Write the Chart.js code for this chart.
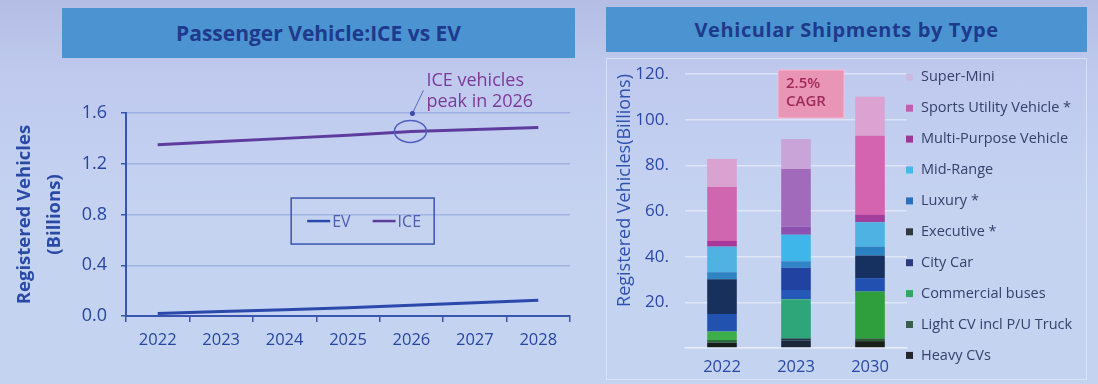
<!DOCTYPE html>
<html>
<head>
<meta charset="utf-8">
<script src="https://cdn.jsdelivr.net/npm/chart.js@4.4.1/dist/chart.umd.min.js"></script>
<style>
html,body{margin:0;padding:0;}
body{width:1098px;height:384px;overflow:hidden;position:relative;
  background:linear-gradient(to bottom,#b4bee5 0%,#bfcaee 20%,#c5d3f1 55%,#c3d3f0 100%);
  font-family:"Open Sans",sans-serif;}
.title{position:absolute;background:#4b93d1;color:#1e3a8c;font-weight:700;
  display:flex;align-items:center;justify-content:center;white-space:nowrap;}
#t1{left:62px;top:8px;width:513px;height:50px;font-size:21px;}
#t2{left:606px;top:7px;width:481px;height:45px;font-size:20px;letter-spacing:0.6px;}
#frame{position:absolute;left:606px;top:58px;width:481px;height:322px;border:1px solid rgba(255,255,255,0.4);box-sizing:border-box;}
#c1{position:absolute;left:0;top:0;}
#c2{position:absolute;left:600px;top:0;}
</style>
</head>
<body>
<div id="frame"></div>
<div class="title" id="t1">Passenger Vehicle:ICE vs EV</div>
<div class="title" id="t2">Vehicular Shipments by Type</div>
<canvas id="c1" width="600" height="384"></canvas>
<canvas id="c2" width="498" height="384"></canvas>
<script>
// ---------- Left chart data ----------
const years = ['2022','2023','2024','2025','2026','2027','2028'];
const evValues  = [0.02, 0.035, 0.05, 0.066, 0.085, 0.105, 0.125];
const iceValues = [1.35, 1.375, 1.40, 1.425, 1.455, 1.47, 1.485];
const yTicksLeft = [0, 0.4, 0.8, 1.2, 1.6];
const peakYear = '2026';
const peakNote = ['ICE vehicles', 'peak in 2026'];

// ---------- Right chart data ----------
const shipYears = ['2022', '2023', '2030'];
const typeNames = ['Heavy CVs', 'Light CV incl P/U Truck', 'Commercial buses', 'City Car', 'Executive *',
                   'Luxury *', 'Mid-Range', 'Multi-Purpose Vehicle', 'Sports Utility Vehicle *', 'Super-Mini'];
const heavyCV         = [2.3, 3.2, 3.0];
const lightCV         = [1.2, 1.0, 1.2];
const commercialBuses = [3.7, 17.2, 20.5];
const cityCar         = [7.7, 4.0, 5.9];
const executive       = [15.2, 9.7, 9.9];
const luxury          = [3.1, 2.9, 3.9];
const midRange        = [11.2, 11.6, 10.7];
const multiPurpose    = [2.5, 3.6, 3.2];
const sportsUtility   = [23.6, 25.2, 34.7];
const superMini       = [12.3, 13.1, 17.0];
const yTicksRight = [0, 20, 40, 60, 80, 100, 120];
const cagrLabel = ['2.5%', 'CAGR'];
const cagrYearIndex = 1;

const seriesValues = [heavyCV, lightCV, commercialBuses, cityCar, executive, luxury, midRange, multiPurpose, sportsUtility, superMini];

// ---------- Styles ----------
Chart.defaults.font.family = '"Open Sans", sans-serif';
const barColors = [
  ['#161c19', '#1b2638', '#182018'],
  ['#2b6a3c', '#1e3a44', '#2a5a34'],
  ['#3eae4a', '#2fa67a', '#2f9f3e'],
  ['#2152b0', '#2658b8', '#2150b0'],
  ['#17305c', '#2242a2', '#163060'],
  ['#2f84c4', '#3184c8', '#2a82c2'],
  ['#50b2e2', '#3eb6ea', '#4eb2e2'],
  ['#a8379a', '#8c50b0', '#a23e9c'],
  ['#d066b0', '#a26aba', '#d464b0'],
  ['#d9a2d0', '#c8a4d8', '#dca2d2']
];
const legendColors = ['#22262a', '#386048', '#30a860', '#2a3a80', '#303840', '#2870c0', '#48b8ec', '#9a3a98', '#c060b0', '#cdbadf'];

// ---------- Left chart plugins ----------
const boxLegend = {
  id: 'boxLegend',
  afterDraw(chart) {
    const {ctx, chartArea: a} = chart;
    const x0 = a.left + a.width * 0.372, y0 = a.top + a.height * 0.419;
    const w = 143, h = 46;
    ctx.save();
    ctx.strokeStyle = '#3a55ad'; ctx.lineWidth = 1.5;
    ctx.strokeRect(x0, y0, w, h);
    ctx.font = '16px "Open Sans", sans-serif';
    ctx.textBaseline = 'middle';
    let x = x0 + 16; const y = y0 + h / 2;
    chart.data.datasets.forEach(ds => {
      ctx.strokeStyle = ds.borderColor; ctx.lineWidth = 2.5;
      ctx.beginPath(); ctx.moveTo(x, y); ctx.lineTo(x + 23, y); ctx.stroke();
      ctx.fillStyle = '#4a5cb0';
      ctx.fillText(ds.label, x + 25, y + 1);
      x += 25 + ctx.measureText(ds.label).width + 22;
    });
    ctx.restore();
  }
};
const peakNotePlugin = {
  id: 'peakNote',
  afterDatasetsDraw(chart) {
    const {ctx} = chart;
    const i = years.indexOf(peakYear);
    const x = chart.scales.x.getPixelForValue(i);
    const y = chart.scales.y.getPixelForValue(iceValues[i]);
    ctx.save();
    ctx.strokeStyle = '#4d5fc0'; ctx.lineWidth = 1.5;
    ctx.beginPath(); ctx.ellipse(x - 1, y, 16, 11, 0, 0, Math.PI * 2); ctx.stroke();
    ctx.strokeStyle = '#5a6ac0'; ctx.lineWidth = 1;
    ctx.beginPath(); ctx.moveTo(x + 1, y - 18); ctx.lineTo(x + 12, y - 41); ctx.stroke();
    ctx.fillStyle = '#3a4ab0';
    ctx.beginPath(); ctx.arc(x + 1, y - 18, 2.5, 0, Math.PI * 2); ctx.fill();
    ctx.fillStyle = '#7b3a9a';
    ctx.font = '18px "Open Sans", sans-serif';
    ctx.textBaseline = 'middle';
    ctx.fillText(peakNote[0], x + 15, y - 51);
    ctx.fillText(peakNote[1], x + 15, y - 30);
    ctx.restore();
  }
};

new Chart(document.getElementById('c1'), {
  type: 'line',
  data: {
    labels: years,
    datasets: [
      {label: 'EV', data: evValues, borderColor: '#2b49ab', borderWidth: 3, pointRadius: 0, tension: 0},
      {label: 'ICE', data: iceValues, borderColor: '#5e3c9e', borderWidth: 3, pointRadius: 0, tension: 0}
    ]
  },
  options: {
    responsive: false, animation: false,
    layout: {padding: {left: 0, top: 113, right: 30, bottom: 34}},
    plugins: {legend: {display: false}, tooltip: {enabled: false}},
    scales: {
      x: {
        offset: true,
        grid: {offset: true, drawOnChartArea: false, drawTicks: true, tickLength: 6, color: '#3a55ad', lineWidth: 1.5},
        border: {color: '#3a55ad', width: 2},
        ticks: {color: '#2746a0', font: {size: 16.5, lineHeight: 1.2}, padding: 8, maxRotation: 0},
        afterFit(s) { s.height = 34; }
      },
      y: {
        min: 0, max: 1.6,
        afterBuildTicks(s) { s.ticks = yTicksLeft.map(v => ({value: v})); },
        grid: {color: 'rgba(70,100,185,0.28)', lineWidth: 1.5, drawTicks: true, tickLength: 5,
               tickColor: '#3a55ad', tickWidth: 1.5},
        border: {color: '#3a55ad', width: 2},
        ticks: {color: '#2746a0', font: {size: 18}, padding: 14, callback: v => Number(v).toFixed(1)},
        title: {display: true, text: ['Registered Vehicles', '(Billions)'], color: '#2b4aa8',
                font: {size: 18.5, weight: 'bold', lineHeight: 1.6}, padding: {top: 10, bottom: 0}},
        afterFit(s) { s.width = 126; }
      }
    }
  },
  plugins: [boxLegend, peakNotePlugin]
});

// ---------- Right chart plugins ----------
const sideLegend = {
  id: 'sideLegend',
  afterDraw(chart) {
    const {ctx, chartArea: a} = chart;
    const items = chart.data.datasets.map((d, i) => ({label: d.label, color: legendColors[i]})).reverse();
    ctx.save();
    ctx.font = '14.5px "Open Sans", sans-serif';
    ctx.textBaseline = 'middle';
    items.forEach((it, k) => {
      const y = a.top + 3.3 + k * 30.9;
      ctx.fillStyle = it.color;
      ctx.fillRect(a.right - 1, y - 3.5, 7, 7);
      ctx.fillStyle = '#36416c';
      ctx.fillText(it.label, a.right + 14, y);
    });
    ctx.restore();
  }
};
const cagrPlugin = {
  id: 'cagr',
  afterDraw(chart) {
    const {ctx, chartArea: a} = chart;
    const xc = chart.scales.x.getPixelForValue(cagrYearIndex);
    const left = xc - 18, top = a.top - 4, w = 66, h = 48;
    ctx.save();
    ctx.fillStyle = '#e996b6';
    ctx.fillRect(left, top, w, h);
    ctx.strokeStyle = 'rgba(255,190,215,0.9)'; ctx.lineWidth = 1;
    ctx.strokeRect(left, top, w, h);
    ctx.fillStyle = '#a02a5c';
    ctx.font = '600 15px "Open Sans", sans-serif';
    ctx.textBaseline = 'middle';
    ctx.fillText(cagrLabel[0], left + 8, top + 14);
    ctx.fillText(cagrLabel[1], left + 8, top + 32);
    ctx.restore();
  }
};

new Chart(document.getElementById('c2'), {
  type: 'bar',
  data: {
    labels: shipYears,
    datasets: typeNames.map((n, i) => ({
      label: n, data: seriesValues[i], backgroundColor: barColors[i], borderWidth: 0,
      barPercentage: 0.4, categoryPercentage: 1
    }))
  },
  options: {
    responsive: false, animation: false,
    layout: {padding: {left: 0, top: 74, right: 191, bottom: 7}},
    plugins: {legend: {display: false}, tooltip: {enabled: false}},
    scales: {
      x: {
        stacked: true,
        grid: {display: false, drawTicks: false},
        border: {display: true, color: 'rgba(255,255,255,0.35)', width: 1.5},
        ticks: {color: '#2a48a6', font: {size: 16.5, lineHeight: 1.2}, padding: 9, maxRotation: 0},
        afterFit(s) { s.height = 29; }
      },
      y: {
        stacked: true, min: 0, max: 120,
        afterBuildTicks(s) { s.ticks = yTicksRight.map(v => ({value: v})); },
        ticks: {color: '#2a48a6', font: {size: 17}, padding: 16, callback: v => (v === 0 ? '' : v + '.')},
        grid: {color: 'rgba(255,255,255,0.45)', lineWidth: 1.5, drawTicks: false},
        border: {display: false},
        title: {display: true, text: 'Registered Vehicles(Billions)', align: 'end', color: '#2d52b0',
                font: {size: 18}, padding: {top: 14.5, bottom: 0}},
        afterFit(s) { s.width = 85; }
      }
    }
  },
  plugins: [sideLegend, cagrPlugin]
});
</script>
</body>
</html>
